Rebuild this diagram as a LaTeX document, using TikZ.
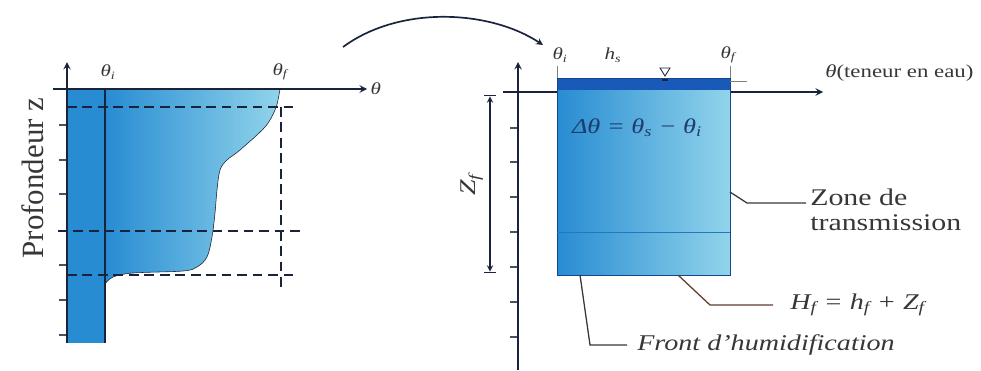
\documentclass[tikz,border=0pt]{standalone}
\usepackage{fontspec}
\setmainfont{Liberation Serif}[FakeStretch=1.25]
\newfontfamily\plainserif{Liberation Serif}

\definecolor{axisnavy}{RGB}{25,35,60}
\definecolor{textgray}{RGB}{55,55,55}
\definecolor{soildeep}{RGB}{40,140,210}
\definecolor{soilmid}{RGB}{70,190,235}
\definecolor{soillight}{RGB}{145,212,235}
\definecolor{pondblue}{RGB}{25,90,185}
\definecolor{edgeblue}{RGB}{20,70,140}
\definecolor{deltablue}{RGB}{30,60,110}
\definecolor{leaderbrown}{RGB}{95,60,45}

\begin{document}
\begin{tikzpicture}[
    x=0.25mm, y=-0.25mm,
    >=stealth,
    axisline/.style={
        draw=axisnavy,
        line width=1.3pt
    },
    tickmark/.style={
        draw=axisnavy!80,
        line width=0.8pt
    },
    guide/.style={
        draw=axisnavy,
        line width=1.3pt,
        dash pattern=on 7pt off 4pt
    },
    leader/.style={
        draw=textgray,
        line width=0.9pt
    },
    greeklabel/.style={
        font=\fontsize{12}{14}\selectfont\itshape,
        text=textgray,
        inner sep=1pt
    },
    notelabel/.style={
        font=\fontsize{17}{18}\selectfont,
        text=textgray,
        anchor=west,
        align=left,
        inner sep=0pt
    }
]
\useasboundingbox (0,0) rectangle (981,370);

% ============ MOISTURE PROFILE ============
% wetted region under the profile
\shadedraw[left color=soildeep, middle color=soilmid, right color=soillight, draw=axisnavy, thin]
    (105,89) -- plot[smooth, tension=0.55] coordinates {(280,89) (278,100) (275,110) (265,127)
    (240,150) (227,160) (220,170) (217,190) (215,213) (212,237) (207,257) (197,267)
    (183,271) (133,273) (113,277) (105,284)} -- cycle;
\fill[soildeep] (67,89) rectangle (105,343);

% guide lines
\draw[guide] (67,107) -- (298,107);
\draw[guide] (58,231) -- (302,231);
\draw[guide] (67,275) -- (297,275);
\draw[guide] (281,107) -- (281,292);

% depth ticks
\foreach \ty in {125,160,194,265,300,335} {
    \draw[tickmark] (59,\ty) -- (67,\ty);
}

% axes
\draw[axisline] (105,89) -- (105,343);
\draw[axisline, ->] (67,343) -- (67,62);
\draw[axisline, ->] (53,89) -- (367,89);

\node[greeklabel] (thetaiL) at (108,72) {θ\textsubscript{i}};
\node[greeklabel] (thetafL) at (280,72) {θ\textsubscript{f}};
\node[greeklabel, anchor=west] (thetaL) at (369,89) {θ};
\node[rotate=90, font=\plainserif\fontsize{22}{24}\selectfont, text=textgray] (depth) at (33,178) {Profondeur z};

% ============ CURVED ARROW ============
\coordinate (jumpfrom) at (343,47);
\coordinate (jumpto) at (543,45);
\draw[->, line width=1.2pt, axisnavy] (jumpfrom) .. controls (400,5) and (490,10) .. (jumpto);

% ============ GREEN-AMPT SCHEME ============
% axes first, the box covers them
\foreach \ty in {128,162,197,232,267,302,337} {
    \draw[tickmark] (510,\ty) -- (518,\ty);
}
\draw[axisline, ->] (518,370) -- (518,62);
\draw[axisline, ->] (503,92) -- (823,92);

% wetted zone and ponded layer
\shade[left color=soildeep, middle color=soilmid, right color=soillight] (557,90) rectangle (730,275);
\fill[pondblue] (557,78) rectangle (730,90);
\draw[edgeblue, line width=0.6pt] (557,78) rectangle (730,275);
\draw[soildeep!70!edgeblue, line width=0.5pt] (557,232) -- (730,232);

% small marks above the box
\draw[gray, line width=0.5pt] (557,66) -- (557,78);
\draw[gray, line width=0.5pt] (730,66) -- (730,78);
\draw[gray, line width=0.5pt] (730,81) -- (747,81);

% water table
\draw[axisnavy, fill=white, line width=0.6pt] (660,68) -- (670,68) -- (665,76) -- cycle;
\draw[axisnavy, line width=0.8pt] (662,80) -- (668,80);

\node[greeklabel] (thetai) at (560,55) {θ\textsubscript{i}};
\node[greeklabel] (hs) at (613,55) {h\textsubscript{s}};
\node[greeklabel] (thetaf) at (728,55) {θ\textsubscript{f}};
\node[notelabel, font=\fontsize{13}{14}\selectfont] (teneur) at (825,73) {\textit{θ}(teneur en eau)};

\node[font=\fontsize{15}{16}\selectfont\itshape, text=deltablue] (delta) at (637,128) {Δθ = θ\textsubscript{s} − θ\textsubscript{i}};

% wetting depth
\coordinate (zftop) at (490,95);
\coordinate (zfbot) at (490,273);
\draw[|<->|, axisnavy, line width=1pt] (zftop) -- (zfbot);
\node[rotate=90, font=\fontsize{16}{18}\selectfont\itshape, text=textgray] (zf) at (472,185) {Z\textsubscript{f}};

% callouts
\node[notelabel] (zone) at (810,210) {Zone de\\transmission};
\coordinate (zonefoot) at (730,192);
\coordinate (zoneend) at (806,203);
\draw[leader] (zonefoot) -- (747,203) -- (zoneend);

\node[notelabel, font=\fontsize{16}{18}\selectfont\itshape] (hf) at (790,305) {H\textsubscript{f} = h\textsubscript{f} + Z\textsubscript{f}};
\coordinate (hffoot) at (678,275);
\coordinate (hfend) at (773,305);
\draw[leader, draw=leaderbrown] (hffoot) -- (710,305) -- (hfend);

\node[notelabel, font=\fontsize{16}{18}\selectfont\itshape] (front) at (637,345) {Front d'humidification};
\coordinate (frontfoot) at (580,275);
\coordinate (frontend) at (627,345);
\draw[leader] (frontfoot) -- (590,345) -- (frontend);

\end{tikzpicture}
\end{document}
